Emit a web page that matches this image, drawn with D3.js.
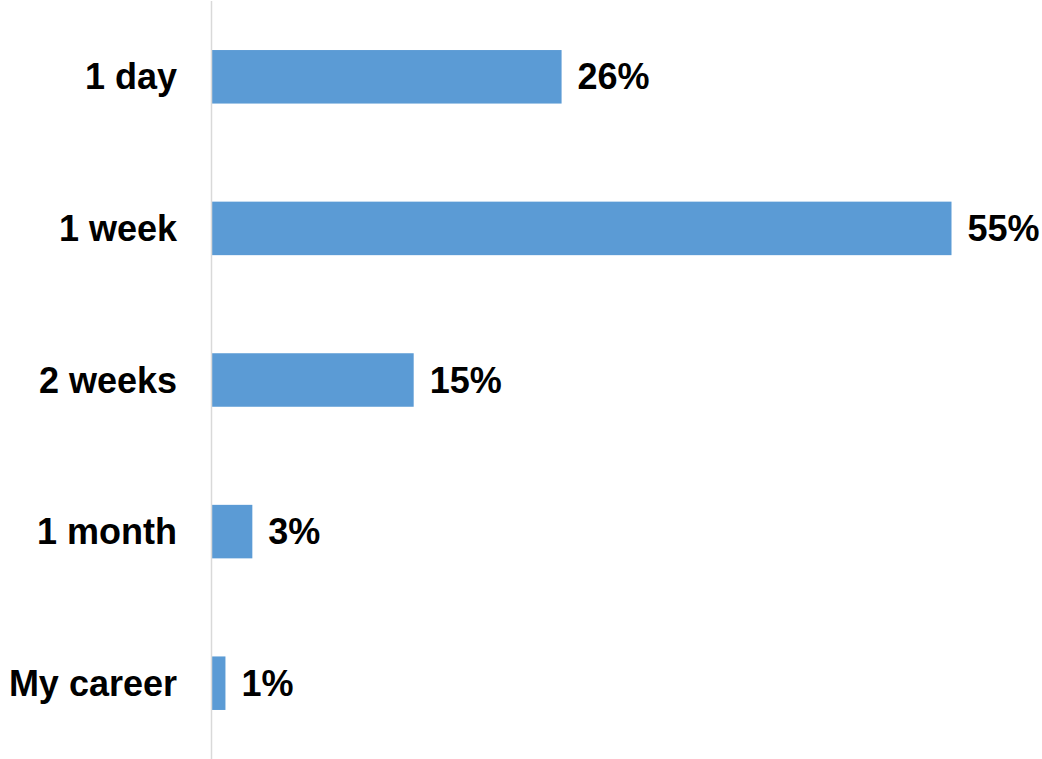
<!DOCTYPE html>
<html>
<head>
<meta charset="utf-8">
<script src="https://cdn.jsdelivr.net/npm/d3@7"></script>
<style>
  html, body { margin: 0; padding: 0; background: #fff; }
  svg { display: block; }
  text { font-family: "Liberation Sans", Arial, sans-serif; font-weight: bold; fill: #000; }
</style>
</head>
<body>
<svg id="chart" width="1042" height="759"></svg>
<script>
// Share of responses per time span
const categories = ["1 day", "1 week", "2 weeks", "1 month", "My career"];
const values = [26, 55, 15, 3, 1];
const valueLabels = ["26%", "55%", "15%", "3%", "1%"];

const W = 1042, H = 759;
const svg = d3.select("#chart");

const axisX = 212;
const x = d3.scaleLinear()
  .domain([0, d3.max(values)])
  .range([axisX, 951.5]);

const y = d3.scaleBand()
  .domain(categories)
  .range([1, H])
  .paddingInner(0.647)
  .paddingOuter(0.3235);

// Bars
svg.append("g")
  .selectAll("rect")
  .data(categories)
  .join("rect")
  .attr("x", x(0))
  .attr("y", d => y(d))
  .attr("width", (d, i) => x(values[i]) - x(0))
  .attr("height", y.bandwidth())
  .attr("fill", "#5b9bd5");

// Category axis line
svg.append("line")
  .attr("x1", axisX - 0.5).attr("x2", axisX - 0.5)
  .attr("y1", 1).attr("y2", H)
  .attr("stroke", "#d9d9d9")
  .attr("stroke-width", 1.5);

// Category labels
svg.append("g")
  .selectAll("text")
  .data(categories)
  .join("text")
  .attr("x", 177)
  .attr("y", d => y(d) + y.bandwidth() / 2)
  .attr("dy", "0.35em")
  .attr("text-anchor", "end")
  .style("font-size", "36px")
  .text(d => d);

// Value labels
svg.append("g")
  .selectAll("text")
  .data(categories)
  .join("text")
  .attr("x", (d, i) => x(values[i]) + 16)
  .attr("y", d => y(d) + y.bandwidth() / 2)
  .attr("dy", "0.35em")
  .style("font-size", "36px")
  .text((d, i) => valueLabels[i]);
</script>
</body>
</html>
